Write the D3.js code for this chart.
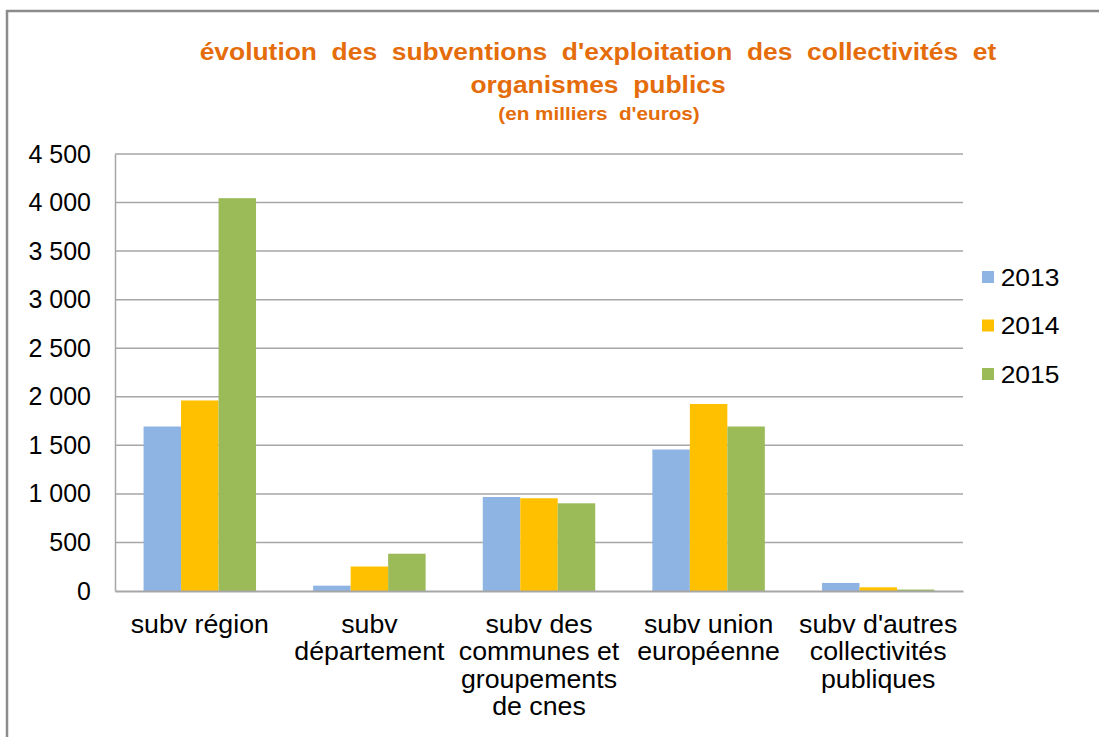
<!DOCTYPE html>
<html>
<head>
<meta charset="utf-8">
<script src="https://cdn.jsdelivr.net/npm/d3@7"></script>
<style>
  html, body { margin: 0; padding: 0; background: #fff; }
  svg { display: block; font-family: "Liberation Sans", Arial, sans-serif; }
</style>
</head>
<body>
<svg id="chart" width="1099" height="737"></svg>
<script>
// ---- data ----
const categories = [
  ["subv région"],
  ["subv", "département"],
  ["subv des", "communes et", "groupements", "de cnes"],
  ["subv union", "européenne"],
  ["subv d'autres", "collectivités", "publiques"]
];
const seriesNames = ["2013", "2014", "2015"];
const values2013 = [1694, 55, 968, 1457, 83];
const values2014 = [1962, 252, 955, 1926, 38];
const values2015 = [4045, 384, 903, 1694, 15];
const tickValues = [0, 500, 1000, 1500, 2000, 2500, 3000, 3500, 4000, 4500];
const titleLines = ["évolution  des  subventions  d'exploitation  des  collectivités  et", "organismes  publics"];
const subtitle = "(en milliers  d'euros)";

const seriesValues = [values2013, values2014, values2015];
const colors = ["#8EB4E3", "#FFC000", "#9BBB59"];

const svg = d3.select("#chart");
const W = 1099, H = 737;
const plot = { left: 115, right: 963, top: 154, bottom: 591 };

// frame border
svg.append("path")
  .attr("d", `M7,${H} L7,11 L${W},11`)
  .attr("fill", "none").attr("stroke", "#8c8c8c").attr("stroke-width", 2.5);

// title (slightly widened glyphs, as in the reference)
const title = svg.append("text")
  .attr("text-anchor", "middle")
  .attr("fill", "#E46C0A")
  .attr("font-weight", "bold")
  .attr("transform", "translate(598,0) scale(1.1,1)")
  .style("white-space", "pre");
title.selectAll("tspan").data(titleLines).join("tspan")
  .attr("x", 0)
  .attr("y", (d, i) => 60 + i * 33)
  .attr("font-size", 24)
  .text(d => d);
svg.append("text")
  .attr("x", 0).attr("y", 120)
  .attr("text-anchor", "middle")
  .attr("fill", "#E46C0A")
  .attr("font-weight", "bold")
  .attr("font-size", 18)
  .attr("transform", "translate(599,0) scale(1.15,1)")
  .style("white-space", "pre")
  .text(subtitle);

// scales
const x0 = d3.scaleBand()
  .domain(d3.range(categories.length))
  .range([plot.left, plot.right])
  .paddingInner(0.337)
  .paddingOuter(0.337 / 2);
const x1 = d3.scaleBand()
  .domain(seriesNames)
  .range([0, x0.bandwidth()]);
const y = d3.scaleLinear().domain([0, 4500]).range([plot.bottom, plot.top]);

const fmt = v => d3.format(",")(v).replace(/,/g, " ");

// gridlines
svg.append("g")
  .selectAll("line").data(tickValues.filter(v => v > 0)).join("line")
  .attr("x1", plot.left).attr("x2", plot.right)
  .attr("y1", d => y(d)).attr("y2", d => y(d))
  .attr("stroke", "#a6a6a6").attr("stroke-width", 1.5);

// y axis
const yAxis = svg.append("g")
  .attr("transform", `translate(${plot.left},0)`)
  .call(d3.axisLeft(y).tickValues(tickValues).tickFormat(fmt).tickSize(0).tickPadding(24));
yAxis.select(".domain").attr("stroke", "#a6a6a6").attr("stroke-width", 1.5);
yAxis.selectAll("text")
  .attr("font-size", 25)
  .attr("fill", "#000")
  .style("font-family", "'Liberation Sans', Arial, sans-serif");

// bars
const groups = svg.append("g").selectAll("g")
  .data(categories.map((c, i) => i)).join("g")
  .attr("transform", i => `translate(${x0(i)},0)`);
groups.selectAll("rect")
  .data(i => seriesNames.map((s, k) => ({ s, k, v: seriesValues[k][i] })))
  .join("rect")
  .attr("x", d => x1(d.s))
  .attr("y", d => y(d.v))
  .attr("width", x1.bandwidth())
  .attr("height", d => y(0) - y(d.v))
  .attr("fill", d => colors[d.k]);

// x axis baseline
const xAxis = svg.append("g")
  .attr("transform", `translate(0,${plot.bottom})`)
  .call(d3.axisBottom(x0).tickSize(0).tickFormat(""));
xAxis.select(".domain").attr("stroke", "#a6a6a6").attr("stroke-width", 2);

// category labels
const catLabels = svg.append("g").selectAll("text")
  .data(categories.map((lines, i) => ({ lines, i }))).join("text")
  .attr("text-anchor", "middle")
  .attr("font-size", 25)
  .attr("fill", "#000")
  .attr("transform", d => `translate(${x0(d.i) + x0.bandwidth() / 2},0) scale(1.07,1)`);
catLabels.selectAll("tspan").data(d => d.lines).join("tspan")
  .attr("x", 0)
  .attr("y", (d, j) => 633 + j * 27.5)
  .text(d => d);

// legend
const legend = svg.append("g").selectAll("g")
  .data(seriesNames).join("g")
  .attr("transform", (d, i) => `translate(982,${277 + i * 48.5})`);
legend.append("rect")
  .attr("x", 0).attr("y", -6).attr("width", 12).attr("height", 12)
  .attr("fill", (d, i) => colors[i]);
legend.append("text")
  .attr("x", 17).attr("y", 8.5)
  .attr("font-size", 24)
  .attr("transform", "scale(1.1,1)")
  .attr("fill", "#000")
  .text(d => d);
</script>
</body>
</html>
